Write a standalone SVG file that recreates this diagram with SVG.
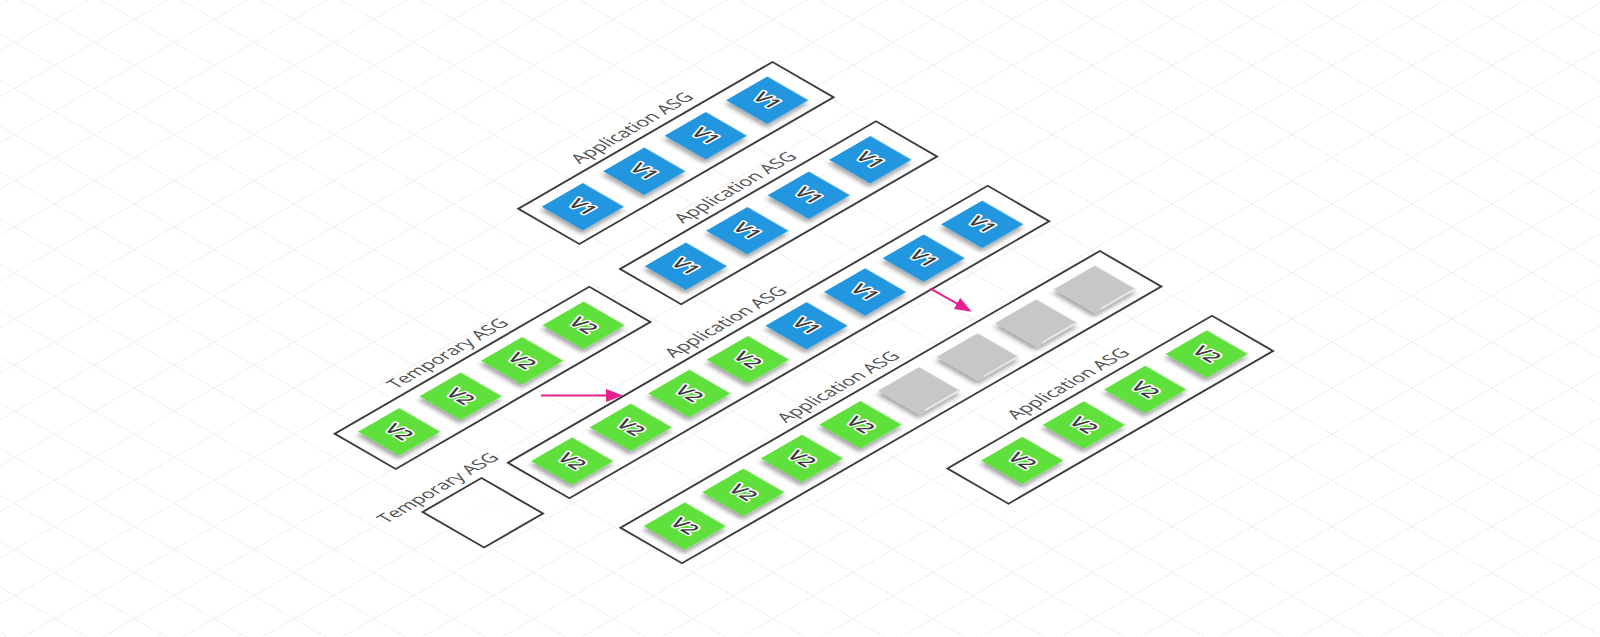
<svg xmlns="http://www.w3.org/2000/svg" width="1600" height="637" viewBox="0 0 1600 637">
<style>
.asg{fill:#ffffff;fill-opacity:.55;stroke:#3c3c3c;stroke-width:2.2}
.lbl{font-family:"Open Sans","Liberation Sans",sans-serif;font-size:18px;fill:#505050;text-anchor:middle}
.face{filter:url(#sh)}
.b{fill:#2397E0}
.g{fill:#5EE03E}
.x{fill:#C7C7C7}
.hl{stroke:#f4f4f4;stroke-width:1.3;fill:none}
.vt{font-family:"Open Sans","Liberation Sans",sans-serif;font-size:19.5px;font-weight:600;fill:#3a3a3a;stroke:#ffffff;stroke-width:3.5;stroke-linejoin:round;paint-order:stroke;text-anchor:middle}
.arrow{stroke:#E6208F;stroke-width:2;fill:none;marker-end:url(#ah)}
</style>
<defs>
<pattern id="grid" patternUnits="userSpaceOnUse" x="11.6" y="4.2" width="46.1" height="46.1">
<path d="M0,0.5H46.1M0.5,0V46.1" stroke="#efefef" stroke-width="1" fill="none"/>
</pattern>
<filter id="sh" x="-30%" y="-30%" width="160%" height="160%">
<feDropShadow dx="-4.5" dy="3.5" stdDeviation="2.5" flood-color="#000" flood-opacity="0.35"/>
</filter>
<marker id="ah" viewBox="0 0 17 13" refX="11" refY="6.5" markerWidth="17" markerHeight="13" markerUnits="userSpaceOnUse" orient="auto">
<path d="M0,0L17,6.5L0,13z" fill="#E6208F"/>
</marker>
<rect id="tb" class="face b" width="47.5" height="47.5"/>
<rect id="tg" class="face g" width="47.5" height="47.5"/>
<rect id="tx" class="face x" width="47.5" height="47.5"/>
</defs>
<rect width="1600" height="637" fill="#ffffff"/>
<g transform="matrix(0.866025,-0.5,0.866025,0.5,0,0)">
<rect x="-700" y="-50" width="1700" height="1700" fill="url(#grid)"/>

<g id="app-asg-1">
<rect class="asg" x="90.5" y="508" width="293.5" height="70.5"/>
<text class="lbl" x="237" y="499">Application ASG</text>
<g transform="translate(106,519.5)"><use href="#tb"/><text class="vt" transform="translate(23.75,23.75) rotate(90)" y="7">V1</text></g>
<g transform="translate(177,519.5)"><use href="#tb"/><text class="vt" transform="translate(23.75,23.75) rotate(90)" y="7">V1</text></g>
<g transform="translate(248,519.5)"><use href="#tb"/><text class="vt" transform="translate(23.75,23.75) rotate(90)" y="7">V1</text></g>
<g transform="translate(319,519.5)"><use href="#tb"/><text class="vt" transform="translate(23.75,23.75) rotate(90)" y="7">V1</text></g>
</g>

<g id="app-asg-2">
<rect class="asg" x="89" y="627" width="295.5" height="70.5"/>
<text class="lbl" x="237" y="618">Application ASG</text>
<g transform="translate(106,638.5)"><use href="#tb"/><text class="vt" transform="translate(23.75,23.75) rotate(90)" y="7">V1</text></g>
<g transform="translate(177,638.5)"><use href="#tb"/><text class="vt" transform="translate(23.75,23.75) rotate(90)" y="7">V1</text></g>
<g transform="translate(248,638.5)"><use href="#tb"/><text class="vt" transform="translate(23.75,23.75) rotate(90)" y="7">V1</text></g>
<g transform="translate(319,638.5)"><use href="#tb"/><text class="vt" transform="translate(23.75,23.75) rotate(90)" y="7">V1</text></g>
</g>

<g id="temp-asg-1">
<rect class="asg" x="-240.5" y="627" width="294" height="70.5"/>
<text class="lbl" x="-95" y="618">Temporary ASG</text>
<g transform="translate(-225,638.5)"><use href="#tg"/><text class="vt" transform="translate(23.75,23.75) rotate(90)" y="7">V2</text></g>
<g transform="translate(-154,638.5)"><use href="#tg"/><text class="vt" transform="translate(23.75,23.75) rotate(90)" y="7">V2</text></g>
<g transform="translate(-83,638.5)"><use href="#tg"/><text class="vt" transform="translate(23.75,23.75) rotate(90)" y="7">V2</text></g>
<g transform="translate(-12,638.5)"><use href="#tg"/><text class="vt" transform="translate(23.75,23.75) rotate(90)" y="7">V2</text></g>
</g>

<g id="app-asg-3">
<rect class="asg" x="-169.5" y="756" width="554" height="71"/>
<text class="lbl" x="97" y="747">Application ASG</text>
<g transform="translate(-154.5,767.75)"><use href="#tg"/><text class="vt" transform="translate(23.75,23.75) rotate(90)" y="7">V2</text></g>
<g transform="translate(-86.9,767.75)"><use href="#tg"/><text class="vt" transform="translate(23.75,23.75) rotate(90)" y="7">V2</text></g>
<g transform="translate(-19.2,767.75)"><use href="#tg"/><text class="vt" transform="translate(23.75,23.75) rotate(90)" y="7">V2</text></g>
<g transform="translate(48.4,767.75)"><use href="#tg"/><text class="vt" transform="translate(23.75,23.75) rotate(90)" y="7">V2</text></g>
<g transform="translate(116.1,767.75)"><use href="#tb"/><text class="vt" transform="translate(23.75,23.75) rotate(90)" y="7">V1</text></g>
<g transform="translate(183.7,767.75)"><use href="#tb"/><text class="vt" transform="translate(23.75,23.75) rotate(90)" y="7">V1</text></g>
<g transform="translate(251.4,767.75)"><use href="#tb"/><text class="vt" transform="translate(23.75,23.75) rotate(90)" y="7">V1</text></g>
<g transform="translate(319,767.75)"><use href="#tb"/><text class="vt" transform="translate(23.75,23.75) rotate(90)" y="7">V1</text></g>
</g>

<g id="temp-asg-2">
<rect class="asg" x="-268" y="756" width="68" height="71"/>
<text class="lbl" x="-235" y="747">Temporary ASG</text>
</g>

<g id="app-asg-4">
<rect class="asg" x="-169.5" y="886" width="553.5" height="71"/>
<text class="lbl" x="97" y="877">Application ASG</text>
<g transform="translate(-154.5,897.75)"><use href="#tg"/><text class="vt" transform="translate(23.75,23.75) rotate(90)" y="7">V2</text></g>
<g transform="translate(-86.9,897.75)"><use href="#tg"/><text class="vt" transform="translate(23.75,23.75) rotate(90)" y="7">V2</text></g>
<g transform="translate(-19.2,897.75)"><use href="#tg"/><text class="vt" transform="translate(23.75,23.75) rotate(90)" y="7">V2</text></g>
<g transform="translate(48.4,897.75)"><use href="#tg"/><text class="vt" transform="translate(23.75,23.75) rotate(90)" y="7">V2</text></g>
<g transform="translate(116.1,897.75)"><use href="#tx"/><path class="hl" d="M8,46.5H47"/></g>
<g transform="translate(183.7,897.75)"><use href="#tx"/><path class="hl" d="M8,46.5H47"/></g>
<g transform="translate(251.4,897.75)"><use href="#tx"/><path class="hl" d="M8,46.5H47"/></g>
<g transform="translate(319,897.75)"><use href="#tx"/><path class="hl" d="M8,46.5H47"/></g>
</g>

<g id="app-asg-5">
<rect class="asg" x="78.5" y="1015.5" width="305.5" height="70.5"/>
<text class="lbl" x="233" y="1006.5">Application ASG</text>
<g transform="translate(106,1027)"><use href="#tg"/><text class="vt" transform="translate(23.75,23.75) rotate(90)" y="7">V2</text></g>
<g transform="translate(177,1027)"><use href="#tg"/><text class="vt" transform="translate(23.75,23.75) rotate(90)" y="7">V2</text></g>
<g transform="translate(248,1027)"><use href="#tg"/><text class="vt" transform="translate(23.75,23.75) rotate(90)" y="7">V2</text></g>
<g transform="translate(319,1027)"><use href="#tg"/><text class="vt" transform="translate(23.75,23.75) rotate(90)" y="7">V2</text></g>
</g>
</g>

<g id="connectors">
<path class="arrow" d="M541,395.5H617"/>
<path class="arrow" d="M930,288.3L966.5,308.8"/>
</g>
</svg>
